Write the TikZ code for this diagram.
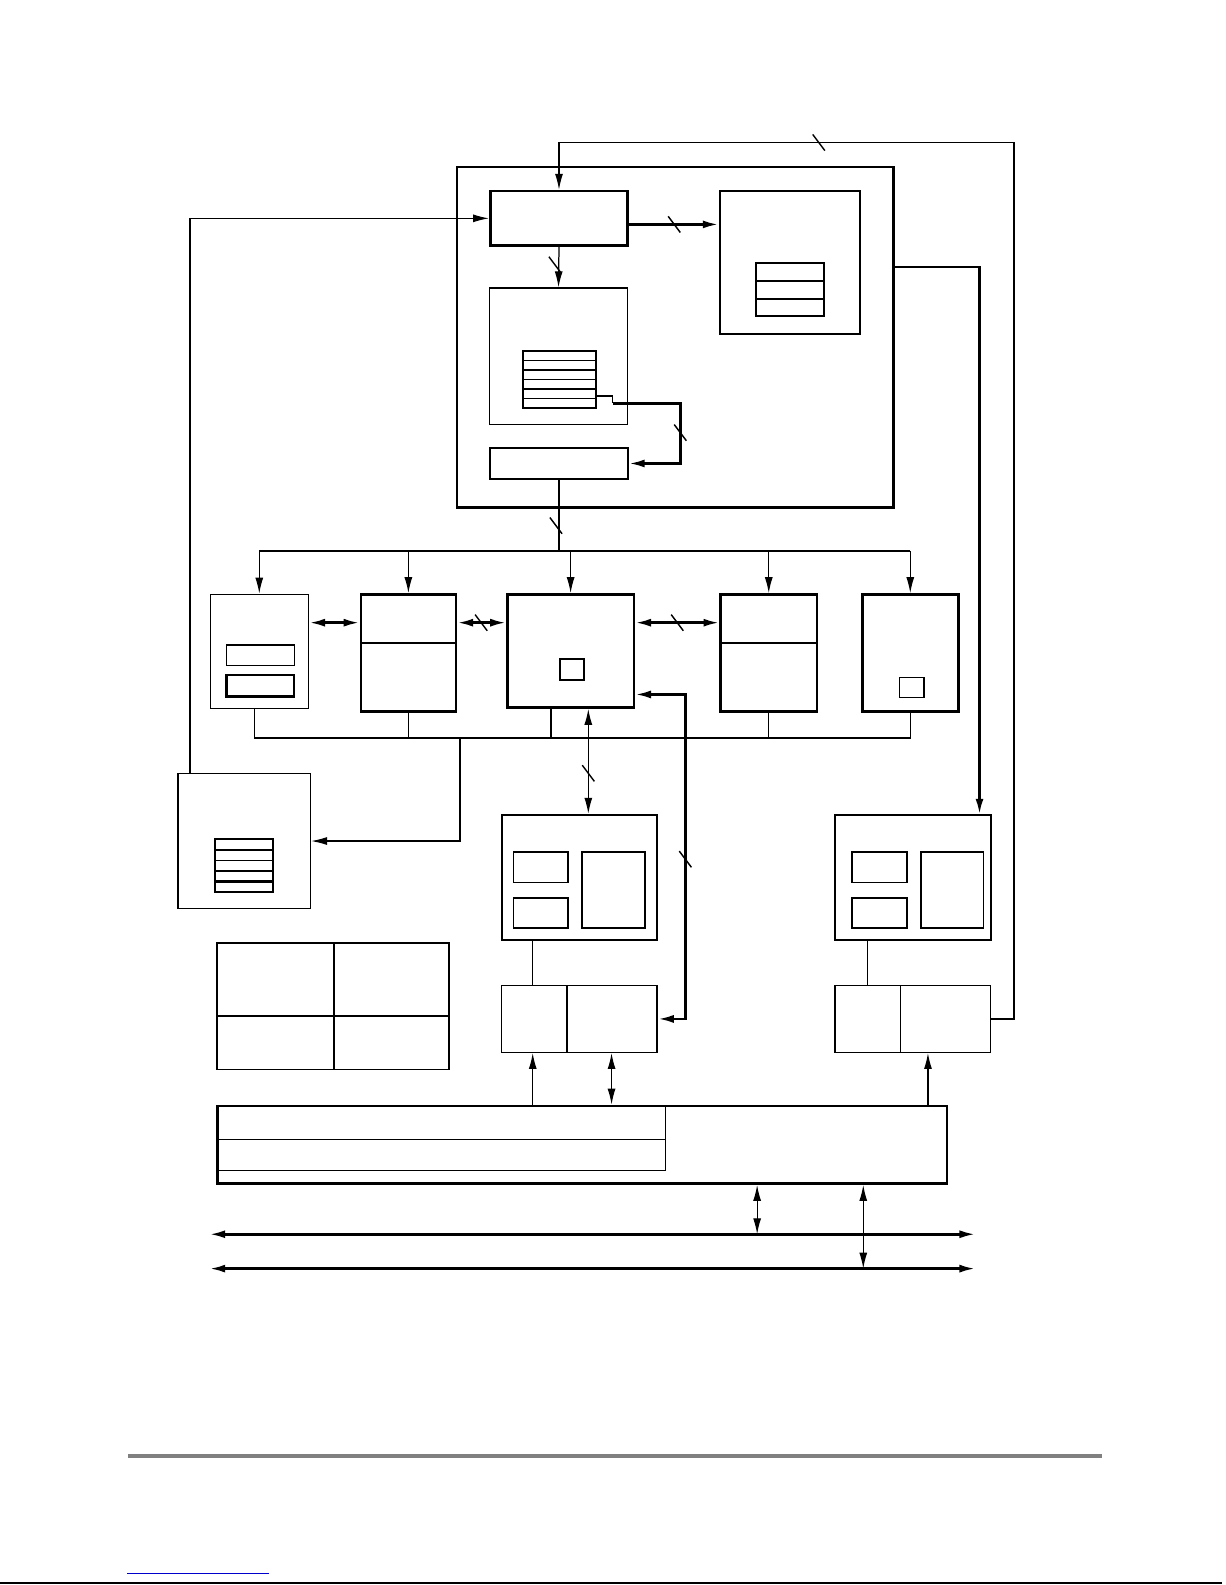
\documentclass[tikz,border=0pt]{standalone}
\usetikzlibrary{arrows.meta,fit}
\tikzset{
  box/.style={draw, line width=1.4pt, inner sep=0pt},
  lbox/.style={draw, line width=0.8pt, inner sep=0pt},
  wire/.style={line width=0.7pt},
  twire/.style={line width=1.5pt},
  busw/.pic={\draw[line width=0.8pt] (-6,-8) -- (6,8);},
  >={Latex[length=9pt,width=4.5pt]}
}
\begin{document}
\begin{tikzpicture}[x=0.02cm, y=-0.02cm]
    \useasboundingbox (0,0) rectangle (1212,1568);
    % helper rows and columns
    \coordinate (r141) at (0,141);
    \coordinate (r616) at (0,616);
    \coordinate (r687) at (0,687);
    \coordinate (rbus) at (0,730);
    \coordinate (rhub) at (0,545);
    \coordinate (cq) at (673,0);
    \coordinate (cg) at (582,0);
    \coordinate (ch) at (678,0);
    \coordinate (cgh) at (527,0);
    \coordinate (cdd) at (605,0);
    \coordinate (cgh2) at (858,0);
    \coordinate (ci2) at (918,0);

    % core block
    \node[box, fit={(452,165) (884,502)}] (core) {};
    \node[box, fit={(485,189) (621,243)}] (ctl) {};
    \node[box, line width=1.1pt, fit={(712,189) (851,330)}] (tbl) {};
    \node[lbox, fit={(484,285) (621,420)}] (que) {};
    \node[box, line width=1.1pt, fit={(485,443) (621,474)}] (out) {};
    \draw[line width=1.2pt] (748,260) rectangle (815,313)
      (748,278) -- (815,278) (748,296) -- (815,296);
    \draw[line width=1.2pt] (517,347) rectangle (590,404);
    \foreach \y/\w in {356.5/0.6,366/1.2,375.5/0.6,385/1.2,394.5/0.6}
      \draw[line width=\w pt] (517,\y) -- (590,\y);
    \draw[line width=1pt] (590,392) -| (606,399) coordinate (tab);

    % second row
    \node[lbox, fit={(208,588) (305,701)}] (e1) {};
    \node[box, fit={(357,588) (451,704)}] (e2) {};
    \node[box, fit={(502,588) (627,700)}] (e3) {};
    \node[box, fit={(713,588) (808,704)}] (e4) {};
    \node[box, fit={(853,588) (948,704)}] (e5) {};
    \draw[wire] (224,638) rectangle (291,658);
    \draw[line width=1.3pt] (224,668) rectangle (291,689);
    \draw[twire] (357,636) -- (451,636) (713,636) -- (808,636);
    \draw[line width=1.1pt] (554,652) rectangle (578,673);
    \draw[wire] (890,670) rectangle (914,690);

    % lower blocks
    \node[lbox, fit={(176,765) (307,899)}] (f) {};
    \draw[line width=1.2pt] (213,830) rectangle (270,882);
    \foreach \y/\w in {840.5/1.2,851/0.6,861.5/1.2,872/1.2}
      \draw[line width=\w pt] (213,\y) -- (270,\y);
    \node[box, line width=1.1pt, fit={(497,806) (650,930)}] (g) {};
    \node[box, line width=1.1pt, fit={(826,806) (980,930)}] (g2) {};
    \foreach \dx in {0,335} {
      \draw[line width=1pt] (508+\dx,843) rectangle (562+\dx,873)
        (508+\dx,888) rectangle (562+\dx,918)
        (576+\dx,843) rectangle (638+\dx,918);
    }
    \node[lbox, fit={(496,975) (650,1041)}] (h) {};
    \node[lbox, fit={(826,975) (980,1041)}] (h2) {};
    \draw[wire] (561,975) -- (561,1041) (891,975) -- (891,1041);
    \node[box, line width=1.1pt, fit={(215,933) (444,1058)}] (legend) {};
    \draw[line width=1.1pt] (330,933) -- (330,1058) (215,1005) -- (444,1005);
    \node[box, fit={(215,1094) (937,1171)}] (io) {};
    \draw[wire] (215,1127) -- (658,1127) (215,1158) -- (658,1158)
      (658,1094) -- (658,1158);

    % connectors
    \draw[wire,->] (h2.east) -| (1003,141) -| (ctl.north);
    \path (810,141) pic {busw};
    \draw[wire,->] (188,765) |- (ctl.west);
    \draw[twire,->] (ctl.east) ++(0,6) -- (tbl.west |- 0,222);
    \path (667,222) pic {busw};
    \draw[wire,->] (ctl.south) -- (que.north);
    \path (549,262) pic {busw};
    \draw[twire,->] (tab) -| (cq |- out.east) -- (out.east);
    \path (673,428) pic {busw};
    \draw[twire] (out.south) -- (out.south |- rhub);
    \path (550,520) pic {busw};
    \draw[twire] (e1.north |- rhub) -- (e5.north |- rhub);
    \foreach \n in {e1,e2,e3,e4,e5}
      \draw[wire,->] (\n.north |- rhub) -- (\n.north);
    \draw[twire,<->] (e1.east |- r616) -- (e2.west |- r616);
    \draw[twire,<->] (e2.east |- r616) -- (e3.west |- r616);
    \path (476,616) pic {busw};
    \draw[twire,<->] (e3.east |- r616) -- (e4.west |- r616);
    \path (670,616) pic {busw};
    \draw[wire] (252,701) |- (e5.south |- rbus) -- (e5.south);
    \draw[wire] (e2.south) -- (e2.south |- rbus) (e4.south) -- (e4.south |- rbus);
    \draw[line width=1.1pt] (545,700) -- (545,730);
    \draw[wire,->] (455,730) |- (f.east);
    \draw[twire,->] (884,264) -| (969,806);
    \draw[wire,<->] (e3.south -| cg) -- (g.north -| cg);
    \path (582,765) pic {busw};
    \draw[twire,<->] (e3.east |- r687) -| (ch |- h.east) -- (h.east);
    \path (678,850) pic {busw};
    \draw[wire] (g.south -| cgh) -- (h.north -| cgh);
    \draw[wire] (g2.south -| cgh2) -- (h2.north -| cgh2);
    \draw[wire,->] (io.north -| cgh) -- (h.south -| cgh);
    \draw[wire,<->] (io.north -| cdd) -- (h.south -| cdd);
    \draw[wire,->] (io.north -| ci2) -- (h2.south -| ci2);

    % system buses
    \coordinate (b1l) at (207,1221);
    \coordinate (b1r) at (965,1221);
    \coordinate (b2l) at (207,1255);
    \coordinate (b2r) at (965,1255);
    \draw[twire,<->] (b1l) -- (b1r);
    \draw[twire,<->] (b2l) -- (b2r);
    \draw[wire,<->] (io.south -| 749,0) -- (b1l -| 749,0);
    \draw[wire,<->] (io.south -| 854,0) -- (b2l -| 854,0);

    % page furniture
    \draw[gray, line width=2.2pt] (127,1440) -- (1090,1440);
    \draw[blue!80!black, line width=0.6pt] (126,1557) -- (266,1557);
    \draw[line width=0.9pt] (0,1566) -- (1209,1566);
  \end{tikzpicture}
\end{document}
